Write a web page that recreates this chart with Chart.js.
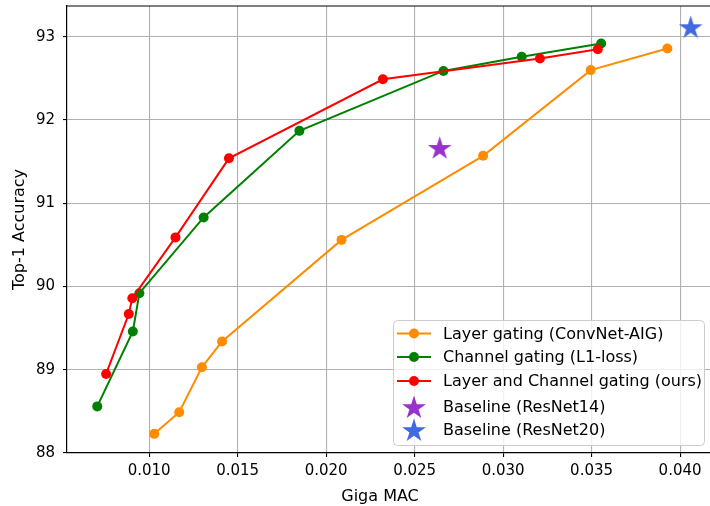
<!DOCTYPE html>
<html><head><meta charset="utf-8">
<script src="https://cdn.jsdelivr.net/npm/chart.js@4.4.0/dist/chart.umd.min.js"></script>
<style>
html,body{margin:0;padding:0;background:#fff;overflow:hidden}
#wrap{width:710px;height:506px}
</style></head>
<body><div id="wrap"><canvas id="c" width="710" height="506"></canvas></div>
<script>
// data (Giga MAC vs Top-1 accuracy)
const seriesNames = ['Layer gating (ConvNet-AIG)', 'Channel gating (L1-loss)', 'Layer and Channel gating (ours)', 'Baseline (ResNet14)', 'Baseline (ResNet20)'];
const aigMac  = [0.01029, 0.0117, 0.01298, 0.01412, 0.02087, 0.02887, 0.03495, 0.03928];
const aigAcc  = [88.23, 88.49, 89.03, 89.34, 90.56, 91.57, 92.60, 92.86];
const l1Mac   = [0.00707, 0.00908, 0.00945, 0.01308, 0.01849, 0.02663, 0.03105, 0.03554];
const l1Acc   = [88.56, 89.46, 89.92, 90.83, 91.87, 92.59, 92.76, 92.92];
const oursMac = [0.00757, 0.00885, 0.00905, 0.01149, 0.01451, 0.02321, 0.03208, 0.03535];
const oursAcc = [88.95, 89.67, 89.86, 90.59, 91.54, 92.49, 92.74, 92.85];
const res14 = [0.02642, 91.67];
const res20 = [0.04060, 93.12];
const xTicks = [0.010, 0.015, 0.020, 0.025, 0.030, 0.035, 0.040];
const yTicks = [88, 89, 90, 91, 92, 93];
const colors = ['#FF8C00', '#008000', '#FF0000', '#9932CC', '#4169E1'];

const FONT = 'DejaVu Sans';
const TICK_FS = 15;
const LABEL_FS = 16;

const pts = (xs, ys) => xs.map((x, i) => ({ x, y: ys[i] }));

function starPath(ctx, cx, cy, r) {
  const ri = r * 0.382;
  ctx.beginPath();
  for (let i = 0; i < 10; i++) {
    const a = -Math.PI / 2 + i * Math.PI / 5;
    const rr = i % 2 ? ri : r;
    ctx.lineTo(cx + rr * Math.cos(a), cy + rr * Math.sin(a));
  }
  ctx.closePath();
}
function makeStar(color, r) {
  const cv = document.createElement('canvas');
  cv.width = cv.height = Math.ceil(r * 2 + 2);
  const g = cv.getContext('2d');
  starPath(g, cv.width / 2, cv.height / 2 + r * 0.1, r);
  g.fillStyle = color; g.fill();
  return cv;
}
const STAR_R = 12.5;

const lineDs = (i, xs, ys, order) => ({
  label: seriesNames[i], data: pts(xs, ys), showLine: true,
  borderColor: colors[i], backgroundColor: colors[i], borderWidth: 2,
  pointRadius: 5, pointHoverRadius: 5, pointBorderWidth: 0, order
});

// matplotlib-style legend box in the lower right of the plot, plus x title
const legendBox = {
  id: 'legendBox',
  afterDraw(chart) {
    const ctx = chart.ctx;
    ctx.save();
    ctx.beginPath();
    ctx.roundRect(393.5, 320.5, 311, 125, 4);
    ctx.fillStyle = 'rgba(255,255,255,0.8)'; ctx.fill();
    ctx.strokeStyle = '#cccccc'; ctx.lineWidth = 1; ctx.stroke();
    const rows = [333.5, 357, 381, 407, 430];
    ctx.font = `${LABEL_FS}px "${FONT}"`;
    ctx.textBaseline = 'middle';
    rows.forEach((y, i) => {
      if (i < 3) {
        ctx.strokeStyle = colors[i]; ctx.lineWidth = 2;
        ctx.beginPath(); ctx.moveTo(397, y); ctx.lineTo(431, y); ctx.stroke();
        ctx.fillStyle = colors[i];
        ctx.beginPath(); ctx.arc(414, y, 5, 0, Math.PI * 2); ctx.fill();
      } else {
        starPath(ctx, 414, y + 1, STAR_R);
        ctx.fillStyle = colors[i]; ctx.fill();
      }
      ctx.fillStyle = '#000';
      ctx.fillText(seriesNames[i], 443, y + 1);
    });
    ctx.textAlign = 'center';
    ctx.fillText('Giga MAC', 380, 497);
    ctx.restore();
  }
};

new Chart(document.getElementById('c'), {
  type: 'scatter',
  data: {
    datasets: [
      lineDs(0, aigMac, aigAcc, 5),
      lineDs(1, l1Mac, l1Acc, 4),
      lineDs(2, oursMac, oursAcc, 3),
      { label: seriesNames[3], data: [{ x: res14[0], y: res14[1] }], pointStyle: makeStar(colors[3], STAR_R), order: 2 },
      { label: seriesNames[4], data: [{ x: res20[0], y: res20[1] }], pointStyle: makeStar(colors[4], STAR_R), order: 1 }
    ]
  },
  options: {
    responsive: false, animation: false, devicePixelRatio: 1,
    layout: { autoPadding: false, padding: { top: 6, right: 0, left: 0, bottom: 0 } },
    plugins: { legend: { display: false }, tooltip: { enabled: false } },
    scales: {
      x: {
        type: 'linear', min: 0.00536, max: 0.04169,
        afterBuildTicks: s => { s.ticks = xTicks.map(v => ({ value: v })); },
        afterFit: s => { s.height = 53; s.paddingLeft = 0; s.paddingRight = 0; },
        ticks: { callback: v => v.toFixed(3), color: '#000', padding: 5, maxRotation: 0, font: { family: FONT, size: TICK_FS } },
        grid: { color: '#b0b0b0', lineWidth: 1.1, tickColor: '#000', tickLength: 4 },
        border: { color: '#000', width: 1.2 }
      },
      y: {
        min: 88.0, max: 93.37,
        afterBuildTicks: s => { s.ticks = yTicks.map(v => ({ value: v })); },
        afterFit: s => { s.width = 67; s.paddingTop = 0; s.paddingBottom = 0; },
        ticks: { callback: v => String(v), color: '#000', padding: 8, font: { family: FONT, size: TICK_FS } },
        grid: { color: '#b0b0b0', lineWidth: 1.1, tickColor: '#000', tickLength: 4 },
        border: { color: '#000', width: 1.2 },
        title: { display: true, text: 'Top-1 Accuracy', color: '#000', padding: { top: 10, bottom: 0 }, font: { family: FONT, size: LABEL_FS } }
      }
    }
  },
  plugins: [legendBox, {
    id: 'frame',
    afterDatasetsDraw(chart) {
      const { ctx, chartArea: a } = chart;
      ctx.save();
      ctx.strokeStyle = '#000'; ctx.lineWidth = 1.2;
      ctx.beginPath();
      ctx.moveTo(a.left, a.top); ctx.lineTo(a.right, a.top);
      ctx.stroke();
      ctx.restore();
    }
  }]
});
</script>
</body></html>
